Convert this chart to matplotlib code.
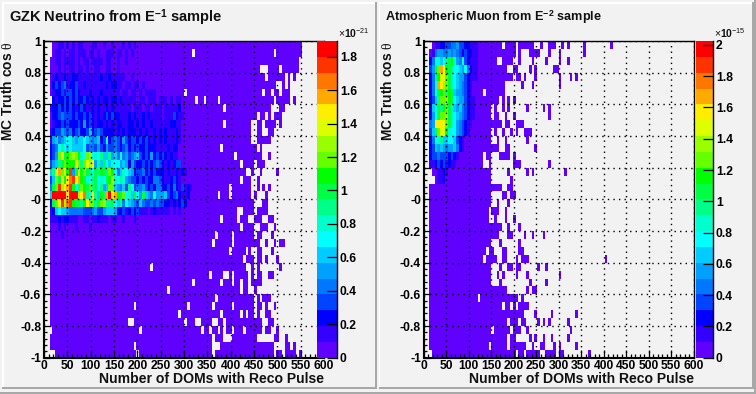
import numpy as np
import matplotlib
matplotlib.use("Agg")
import matplotlib.pyplot as plt
from matplotlib.colors import ListedColormap, BoundaryNorm
from matplotlib.patches import Rectangle

plt.rcParams['font.family'] = ['Liberation Sans', 'DejaVu Sans']
plt.rcParams['mathtext.fontset'] = 'custom'
plt.rcParams['mathtext.rm'] = 'Liberation Sans'
plt.rcParams['mathtext.bf'] = 'Liberation Sans:bold'
plt.rcParams['mathtext.it'] = 'Liberation Serif'

PALETTE = ['#6000ff', '#3300ff', '#0000ff', '#0044ff', '#0077ff', '#00a0ff', '#00ccff',
           '#00ffff', '#00ffcc', '#00ff88', '#00ff44', '#00ff00', '#66ff00', '#99ff00',
           '#ddff00', '#ffee00', '#ffaa00', '#ff7700', '#ff3300', '#ff0000']
LEVEL_CHARS = 'abcdefghijklmnopqrst'

# ---- GZK neutrino: colour level per bin, first rows of the low-N columns (column 2 onward)
NEU_HOT = [
    ".aabbabababbaaabbaabaabaaababab",
    ".abbababbabbbabbabaabbbabbabab",
    "aabbabbbbababbabbbbabbaabaaba",
    "aaabababbabbabaabbaabbaabaaa",
    "abcbbcbbccbbbbbbbbcbbcbbbbbaabaa",
    "acdcdebccdbbcbbbbbbbcbccbbabbabbab",
    "abccdbddcdcbbbcbbbcbbbbbbabbabbababbbb",
    ".cbccdcdcdccdcbcbcbccbccbcbbbbbabbabbbabbbababb",
    "bccdcdcdcbcdcbbcbcbbcbcbbbbbbabbbabbabbbabbbbbc",
    "accdedddcdccdcdcbcbcdcdccbbbcbcbbcbcbbbbabbbdcbb",
    "abccdcdcccdcfcdcbccbcbcbccbbccbcbcbbcbbbbbbccbba",
    "bcddfedecdeccdgcdedccccbcbcbcccbcbcbbcbcbcbbbcb",
    "bfgefghigfgghgfefgcdhcdedcfdcddcdcdcbcbcbcbbbcb",
    "cdehjhgigggghdeedfdcfddedcdecdcdccdcccbbbbcbcc",
    "cdfmoklmnmlihmnhihjggjfgehefdefgdcdcfcdcdcbcbb",
    "dfgjkmlllpmjmonpfjgkhgihhfgfcfdccdcdcdedcbcbcdd",
    "gjoqmolsfkolmkjhkjlkjmlhegihgfcddecdcdcccbcbbcbcb",
    "dgmkolprsoqlkihjkhihklnihjifeddcdcdcceedcbbcdcb",
    "ekmsnpqslhjmlkmjkhjfgmmgfegdjhdeefdcdceeccdcecbdbcb",
    "gtttttptttnprjhpjgljqtpqlkmhigkhfkgfehfffgdcdecbbc",
    "ckmosnrslkkjlpmmjkmnjjkhgjehgfedgeddededdccbcbcdc",
    "bcghggfeeeeedddefddfgggfccdbcdcdbbbabcbbbbbababa",
    "bbbcbccbbbaabbabbcbbbabbaabaaabaaa",
    "aaababaaabaaaabaa",
    "aaaabaaa",
]
NEU_LAST = [91, 91, 90, 90, 89, 87, 87, 89, 85, 84, 84, 81, 80, 77, 80, 78, 83, 76, 80, 79,
            79, 79, 81, 82, 81, 85, 81, 83, 84, 81, 77, 75, 80, 82, 80, 81, 83, 86, 89, 91]
NEU_GAPS = [
    [], [53, 82], [], [77, 78, 79, 84], [79, 86, 88], [83, 84, 86], [50, 78, 81, 84],
    [54, 57, 62, 82, 88], [64, 81, 82, 83], [76, 79, 81], [64, 74, 75, 78, 83], [74, 75, 78, 79],
    [74, 75], [63, 76], [68, 78, 79], [70, 75], [72, 73, 75, 76, 78, 79, 80, 81, 82],
    [70, 74, 75], [66, 74, 75, 77, 79], [62, 66, 74, 76, 77, 78],
    [75, 76, 77], [69, 70, 75], [63, 69, 73, 74, 78, 79], [70, 75, 76, 80, 81],
    [61, 67, 75, 78, 79, 80], [60, 67, 77, 78, 80, 81, 83], [66, 72, 74, 75, 78, 79, 80],
    [71, 75, 78, 80, 81, 82], [38, 72, 73, 75, 77, 78, 79, 80, 81, 82, 83], [59, 64, 65, 67, 73, 75, 78, 79],
    [53, 63, 67, 70, 73], [44, 70, 73, 74], [61, 75, 77], [32, 51, 60, 67, 75, 78, 80, 81],
    [48, 63, 70, 72, 75, 77, 78], [30, 31, 50, 54, 55, 60, 61, 64, 78, 79],
    [2, 34, 56, 59, 62, 64, 67, 71, 78, 81, 82], [60, 64, 65, 66, 76, 77, 78, 79, 80, 81, 84, 85],
    [32, 60, 61, 62, 82, 83, 84, 85, 88], [2, 3, 33, 60, 82, 85, 90],
]

# ---- Atmospheric muon: colour level per bin (column 1 onward), then filled bin ranges
MUO_HOT = [
    "..abbccddeefddccbbba",
    ".abeffeefefedcdccbba",
    ".cehighjklifehdcbbba",
    ".dfkmqolkjhhgfhecbbaa",
    ".cejloomkihgffdcbbbaa",
    ".cehqpnmkihgfedcbaaa",
    ".cehklmjlkgffedcbaaa",
    ".cdgjmmnlkhgffdcbbaaa",
    ".cgikjlmkigfgedcbbaaa",
    ".cfhkmmnkihgfedcbbaa",
    ".efpppomkihfedcbbaaa",
    ".dgkmoolihhfedcbaa",
    ".cehijgghhgdcbaa",
    ".cdgfgfeffgecbaa",
    ".cddedddcdcbaa",
    ".bbcdcdbcbbaa",
    "..aabbcbaaa",
    "...abbcaa",
]
MUO_RANGES = [
    [(3, 28), (30, 33), (35, 40), (43, 43), (46, 48), (51, 51), (53, 53), (59, 59), (69, 69)],
    [(2, 33), (35, 35), (39, 42), (46, 46), (50, 50), (59, 59)],
    [(2, 26), (29, 32), (35, 35), (40, 40), (45, 45), (50, 50), (53, 53)],
    [(2, 30), (33, 34), (39, 39), (41, 41), (48, 49)],
    [(2, 32), (34, 35), (37, 37), (41, 41), (50, 50), (54, 54), (56, 56)],
    [(2, 29), (36, 36), (40, 40), (50, 50)],
    [(2, 21), (23, 29)],
    [(2, 27), (29, 29), (31, 31), (33, 33)],
    [(2, 24), (26, 26), (29, 29), (31, 31), (38, 38), (44, 44), (46, 46)],
    [(2, 21), (22, 24), (26, 27), (30, 30), (33, 33), (46, 46)],
    [(2, 28), (30, 31), (34, 36)],
    [(2, 24), (26, 26), (29, 29), (32, 32), (34, 34), (37, 39)],
    [(2, 24), (27, 27), (30, 30), (38, 38)],
    [(2, 27), (30, 31), (41, 41)],
    [(2, 21), (23, 24), (28, 31), (33, 33)],
    [(2, 21), (24, 24), (33, 35), (46, 46)],
    [(2, 24), (31, 31), (38, 38), (40, 40), (52, 52)],
    [(2, 24), (32, 32)],
    [(2, 28), (31, 32)],
    [(2, 24), (29, 30), (32, 33)],
    [(2, 24), (27, 27), (31, 31)],
    [(2, 23), (25, 27), (30, 30)],
    [(2, 23), (26, 26), (30, 30), (33, 33)],
    [(2, 28), (31, 31), (35, 35)],
    [(2, 27), (31, 32), (37, 37), (40, 40), (44, 44)],
    [(2, 24), (28, 28), (35, 35)],
    [(2, 22), (24, 25), (29, 30), (35, 36)],
    [(2, 21), (23, 26), (29, 30), (34, 34), (36, 38), (67, 67)],
    [(2, 24), (28, 28), (31, 32), (34, 35), (42, 42), (45, 45)],
    [(2, 24), (27, 27), (29, 29), (34, 34), (38, 38), (50, 50)],
    [(2, 24), (28, 28), (39, 39), (45, 45)],
    [(2, 30), (38, 38), (40, 41)],
    [(2, 19), (21, 34), (36, 36)],
    [(2, 28), (30, 31), (33, 33), (35, 38)],
    [(2, 36), (41, 41), (47, 47), (56, 56)],
    [(2, 30), (32, 34), (36, 37), (42, 42), (44, 44), (46, 46), (53, 53)],
    [(2, 24), (26, 31), (33, 35), (38, 38), (54, 54)],
    [(2, 30), (32, 33), (39, 39), (41, 41), (44, 44), (47, 47), (53, 53)],
    [(2, 23), (25, 30), (32, 37), (40, 40), (43, 44), (48, 48), (50, 50), (56, 56)],
    [(3, 33), (35, 36), (38, 42), (45, 48), (50, 51), (61, 61)],
]

N_X, N_Y = 100, 40
X_MAX = 600.0
X_TICKS = [0, 50, 100, 150, 200, 250, 300, 350, 400, 450, 500, 550, 600]
Y_TICKS = [1, 0.8, 0.6, 0.4, 0.2, 0, -0.2, -0.4, -0.6, -0.8, -1]
Y_LABELS = ['1', '0.8', '0.6', '0.4', '0.2', '-0', '-0.2', '-0.4', '-0.6', '-0.8', '-1']
NEU_MAX, MUO_MAX = 1.894, 2.025
NEU_CTICKS = [0, 0.2, 0.4, 0.6, 0.8, 1, 1.2, 1.4, 1.6, 1.8]
MUO_CTICKS = [0, 0.2, 0.4, 0.6, 0.8, 1, 1.2, 1.4, 1.6, 1.8, 2]
NEU_CLABELS = ['0', '0.2', '0.4', '0.6', '0.8', '1', '1.2', '1.4', '1.6', '1.8']
MUO_CLABELS = NEU_CLABELS + ['2']


def apply_hot(levels, hot_rows, first_col):
    for r, s in enumerate(hot_rows):
        for i, ch in enumerate(s):
            levels[r, first_col + i] = np.nan if ch == '.' else LEVEL_CHARS.index(ch)


def neutrino_levels():
    lv = np.full((N_Y, N_X), np.nan)
    for r in range(N_Y):
        lv[r, 2:NEU_LAST[r] + 1] = 0
        for g in NEU_GAPS[r]:
            lv[r, g] = np.nan
    apply_hot(lv, NEU_HOT, 2)
    return lv


def muon_levels():
    lv = np.full((N_Y, N_X), np.nan)
    for r, ranges in enumerate(MUO_RANGES):
        for a, b in ranges:
            lv[r, a:b + 1] = 0
    apply_hot(lv, MUO_HOT, 1)
    return lv


W, H = 756, 394
fig = plt.figure(figsize=(W / 100, H / 100), dpi=100, facecolor='#f2f2f2')


def axpx(x0, y0, x1, y1, **kw):
    return fig.add_axes([x0 / W, 1 - y1 / H, (x1 - x0) / W, (y1 - y0) / H], **kw)


def box(x0, y0, x1, y1, color):
    fig.add_artist(Rectangle((x0 / W, 1 - y1 / H), (x1 - x0) / W, (y1 - y0) / H,
                             transform=fig.transFigure, fc=color, ec='none', zorder=-5))


# pad bevels
box(0, 391.5, W, 394, '#a8a8a8')
box(753.5, 0, W, 394, '#a8a8a8')
for x0, x1 in [(2, 375), (379, 752)]:
    box(x0, 2, x1, 3.5, '#ffffff')
    box(x0, 2, x0 + 1.5, 387, '#ffffff')
    box(x1, 2, x1 + 1.8, 389, '#a8a8a8')
    box(x0, 387, x1 + 1.8, 389, '#a8a8a8')


def panel(x0, x1, px0, px1, lv, vmax, cticks, clabels, exp, title, title_x, title_y, title_fs):
    y0, y1 = 41, 357.7
    ax = axpx(x0, y0, x1, y1, facecolor='none')
    cmap = ListedColormap(PALETTE)
    bounds = np.linspace(0, vmax, 21)
    norm = BoundaryNorm(bounds, 20)
    z = (lv + 0.5) / 20 * vmax
    xe = np.linspace(0, X_MAX, N_X + 1)
    ye = np.linspace(1, -1, N_Y + 1)
    ax.pcolormesh(xe, ye, np.ma.masked_invalid(z), cmap=cmap, norm=norm, shading='flat')
    ax.set_xlim(0, X_MAX)
    ax.set_ylim(-1, 1)
    ax.set_axisbelow(False)
    ax.set_xticks(X_TICKS)
    ax.set_xticks(np.arange(0, 601, 10), minor=True)
    ax.set_yticks(Y_TICKS)
    ax.set_yticklabels(Y_LABELS)
    ax.set_yticks(np.arange(-1, 1.001, 0.04), minor=True)
    ax.grid(True, which='major', color='black', ls=(0, (1, 3)), lw=1.0)
    ax.tick_params(which='major', axis='x', direction='in', length=6, width=0.9, pad=1.5)
    ax.tick_params(which='minor', axis='x', direction='in', length=3, width=0.9)
    ax.tick_params(which='major', axis='y', direction='in', length=4.5, width=0.9, pad=2)
    ax.tick_params(which='minor', axis='y', direction='in', length=2.4, width=0.9)
    for t in ax.get_xticklabels() + ax.get_yticklabels():
        t.set_fontweight('bold')
        t.set_fontsize(8.7)
    for s in ax.spines.values():
        s.set_linewidth(1.0)
    ax.spines['left'].set_linewidth(1.5)
    ax.spines['bottom'].set_linewidth(1.5)

    fig.text(x1 / W, 1 - 383 / H, "Number of DOMs with Reco Pulse", ha='right', va='baseline',
             fontsize=10.1, fontweight='bold', color='#111111')
    fig.text((x0 - 28.5) / W, 1 - y0 / H, r"MC Truth cos $\theta$", rotation=90, ha='right', va='top',
             fontsize=9.9, fontweight='bold', color='#111111')
    fig.text(title_x / W, 1 - title_y / H, title, ha='left', va='baseline', fontsize=title_fs,
             fontweight='bold', color='#111111')

    cax = axpx(px0, y0, px1, y1)
    cax.set_zorder(5)
    cax.pcolormesh([0, 1], bounds, (bounds[:-1] + bounds[1:]).reshape(-1, 1) / 2,
                   cmap=cmap, norm=norm, shading='flat')
    cax.set_xlim(0, 1)
    cax.set_ylim(0, vmax)
    cax.set_xticks([])
    cax.yaxis.tick_right()
    cax.set_yticks(cticks)
    cax.set_yticklabels(clabels)
    cax.tick_params(axis='y', direction='in', length=7, width=0.9, pad=2)
    for t in cax.get_yticklabels():
        t.set_fontweight('bold')
        t.set_fontsize(8.7)
    for n, s in cax.spines.items():
        s.set_visible(n == 'right')
        s.set_linewidth(1.0)
    fig.text((px1 + 1) / W, 1 - 38 / H, r"$\times$10$^{-%d}$" % exp, ha='left', va='baseline',
             fontsize=7.5, fontweight='bold', color='#111111')


panel(44, 324, 317, 337, neutrino_levels(), NEU_MAX, NEU_CTICKS, NEU_CLABELS, 21,
      r"GZK Neutrino from E$^{\mathbf{-1}}$ sample", 9.3, 22, 10.5)
panel(423.7, 693.7, 696, 713, muon_levels(), MUO_MAX, MUO_CTICKS, MUO_CLABELS, 15,
      r"Atmospheric Muon from E$^{\mathbf{-2}}$ sample", 385, 21, 9.1)

fig.savefig('out.png', dpi=100, facecolor=fig.get_facecolor())
